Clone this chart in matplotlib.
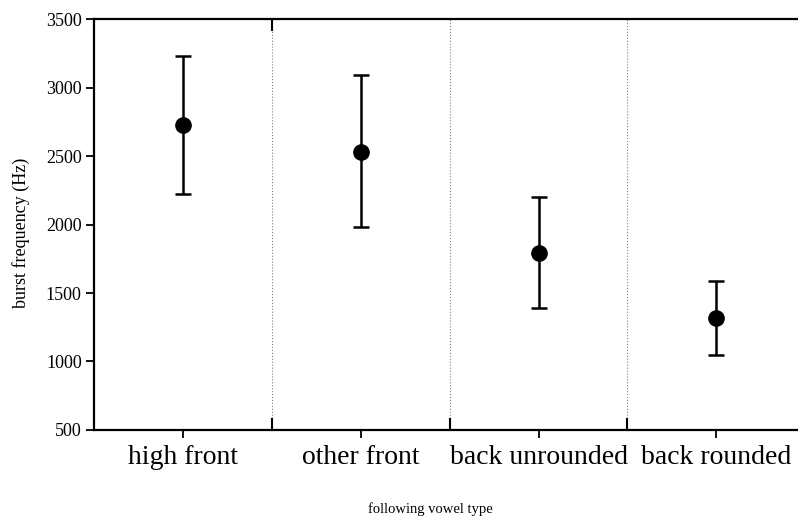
import matplotlib.pyplot as plt
import numpy as np

# datos
categorias = ["high front", "other front", "back unrounded", "back rounded"]
medias = [2730, 2530, 1795, 1320]
limite_inf = [2225, 1980, 1390, 1050]
limite_sup = [3230, 3090, 2200, 1585]

plt.rcParams['font.family'] = ['Liberation Serif', 'DejaVu Serif']

fig = plt.figure(figsize=(7.98, 5.18), dpi=100)
ax = fig.add_axes([0.118, 0.170, 0.891, 0.793])

x = np.arange(len(categorias))
medias = np.array(medias)
err = [medias - np.array(limite_inf), np.array(limite_sup) - medias]
ax.errorbar(x, medias, yerr=err, fmt='o', color='black', ms=11,
            elinewidth=1.8, capsize=6, capthick=1.8, zorder=3)

# separadores punteados entre categorias
for s in [0.5, 1.5, 2.5]:
    ax.axvline(s, color='gray', linestyle=':', linewidth=0.8, zorder=1)
    ax.plot([s, s], [500, 580], color='black', lw=1.5, clip_on=False)
ax.plot([0.5, 0.5], [3500, 3420], color='black', lw=1.5)

ax.set_xlim(-0.5, 3.5)
ax.set_ylim(500, 3500)
ax.set_yticks(np.arange(500, 3501, 500))
ax.set_xticks(x)
ax.set_xticklabels(categorias, fontsize=20)
ax.tick_params(axis='y', labelsize=13, direction='out', length=6, width=1.3, pad=3)
ax.tick_params(axis='x', direction='out', length=6, width=1.3, pad=5)

ax.spines['right'].set_visible(False)
for lado in ['left', 'bottom', 'top']:
    ax.spines[lado].set_linewidth(1.6)

fig.text(0.026, 0.55, 'burst frequency (Hz)', rotation=90, ha='center', va='center', fontsize=13)
fig.text(0.539, 0.004, 'following vowel type', ha='center', va='bottom', fontsize=10.5)

fig.savefig('out.png', dpi=100)
